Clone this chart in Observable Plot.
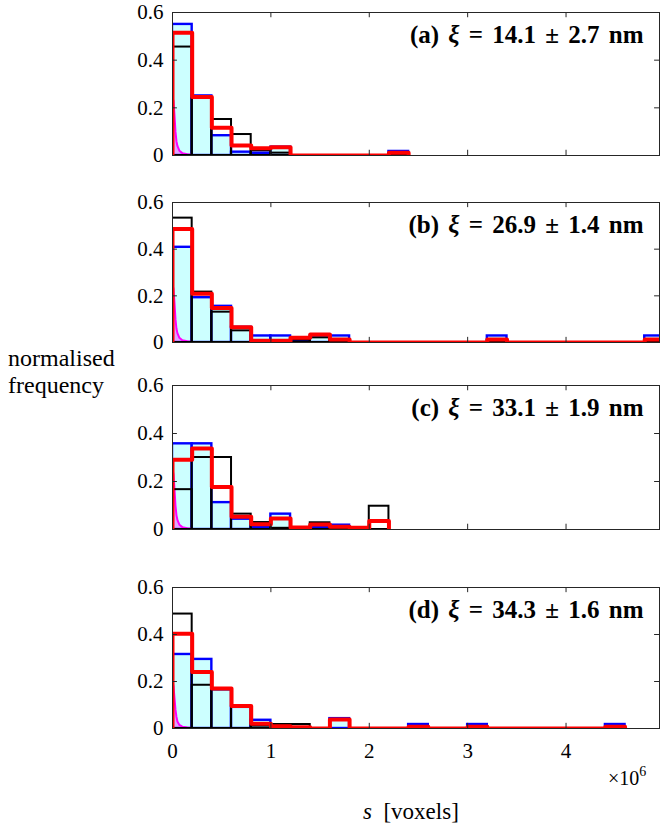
<!DOCTYPE html>
<html>
<head>
<meta charset="utf-8">
<script src="https://cdn.jsdelivr.net/npm/d3@7"></script>
<script src="https://cdn.jsdelivr.net/npm/@observablehq/plot@0.6"></script>
<style>
  html, body { margin: 0; padding: 0; background: #fff; }
  #wrap { position: relative; width: 660px; height: 828px; overflow: hidden; background: #fff;
          font-family: "Liberation Serif", serif; color: #000; }
  #wrap svg { position: absolute; left: 0; }
  .lbl { position: absolute; white-space: pre; line-height: 1; font-family: "Liberation Serif", serif; }
</style>
</head>
<body>
<div id="wrap">
  <div class="lbl" style="left:8px; top:346px; font-size:24px;">normalised</div>
  <div class="lbl" style="left:8px; top:373px; font-size:24px;">frequency</div>
  <div class="lbl" style="left:608px; top:768px; font-size:20px;">×10<span style="font-size:14px; position:relative; top:-9px;">6</span></div>
  <div class="lbl" style="left:363px; top:800px; font-size:23px;"><i>s</i>  [voxels]</div>
</div>
<script>
// ---------- data (x in units of 10^6 voxels, bin width 0.2) ----------
const binWidth = 0.2;
const panelLabels = ["(a)", "(b)", "(c)", "(d)"];
const xiValues = ["14.1 \u00b1 2.7 nm", "26.9 \u00b1 1.4 nm", "33.1 \u00b1 1.9 nm", "34.3 \u00b1 1.6 nm"];
const yTicks = [0, 0.2, 0.4, 0.6];
const xTicks = [0, 1, 2, 3, 4];

const blueA  = [0.550, 0.250, 0.083, 0.014, 0.010, 0.035, 0, 0, 0, 0, 0, 0.017];
const blackA = [0.455, 0.240, 0.151, 0.088, 0.020, 0.010, 0, 0, 0, 0, 0, 0.008];
const redA   = [0.515, 0.245, 0.116, 0.042, 0.030, 0.035, 0, 0, 0, 0, 0, 0.012];

const blueB  = [0.408, 0.192, 0.155, 0.065, 0.028, 0.028, 0.005, 0.028, 0.028, 0, 0, 0, 0, 0, 0, 0, 0.028, 0, 0, 0, 0, 0, 0, 0, 0.028];
const blackB = [0.533, 0.216, 0.130, 0.050, 0.005, 0.005, 0.010, 0.020, 0.010, 0, 0, 0, 0, 0, 0, 0, 0.010, 0, 0, 0, 0, 0, 0, 0, 0.010];
const redB   = [0.486, 0.209, 0.148, 0.065, 0.007, 0.007, 0.020, 0.034, 0.013, 0, 0, 0, 0, 0, 0, 0, 0.013, 0, 0, 0, 0, 0, 0, 0, 0.013];

const blueC  = [0.357, 0.357, 0.112, 0.043, 0.010, 0.064, 0.005, 0.010, 0.018, 0, 0];
const blackC = [0.166, 0.300, 0.300, 0.064, 0.029, 0.005, 0, 0.028, 0.011, 0.005, 0.097];
const redC   = [0.291, 0.337, 0.177, 0.053, 0.022, 0.046, 0.008, 0.021, 0.011, 0.007, 0.035];

const blueD  = [0.315, 0.294, 0.165, 0.090, 0.035, 0.005, 0, 0, 0.042, 0, 0, 0, 0.017, 0, 0, 0.017, 0, 0, 0, 0, 0, 0, 0.017];
const blackD = [0.487, 0.184, 0.165, 0.090, 0.010, 0.017, 0.017, 0, 0, 0, 0, 0, 0, 0, 0, 0, 0, 0, 0, 0, 0, 0, 0];
const redD   = [0.403, 0.240, 0.170, 0.096, 0.020, 0.010, 0.005, 0, 0.038, 0, 0, 0, 0.007, 0, 0, 0.007, 0, 0, 0, 0, 0, 0, 0.007];

// magenta: fine-binned distribution near zero
const magX = [0, 0.01, 0.02, 0.03, 0.04, 0.05, 0.07, 0.10, 0.15, 0.20, 0.30, 0.40];
const magA = [0.24, 0.23, 0.17, 0.10, 0.060, 0.040, 0.020, 0.010, 0.005, 0.003, 0.001, 0];
const magB = [0.25, 0.23, 0.17, 0.10, 0.060, 0.040, 0.020, 0.010, 0.005, 0.003, 0.001, 0];
const magC = [0.25, 0.23, 0.17, 0.10, 0.060, 0.040, 0.020, 0.010, 0.005, 0.003, 0.001, 0];
const magD = [0.20, 0.18, 0.13, 0.08, 0.050, 0.030, 0.015, 0.008, 0.004, 0.002, 0.001, 0];

const series = [
  {blue: blueA, black: blackA, red: redA, mag: magA},
  {blue: blueB, black: blackB, red: redB, mag: magB},
  {blue: blueC, black: blackC, red: redC, mag: magC},
  {blue: blueD, black: blackD, red: redD, mag: magD}
];

// ---------- layout ----------
const layout = [
  {top: 12,  h: 143},
  {top: 202, h: 140},
  {top: 385, h: 144},
  {top: 587, h: 141}
];
const xDomain = [0, 4.95];
const FONT = "Liberation Serif";

const toBins = vals => vals.map((v, i) => ({x1: i * binWidth, x2: (i + 1) * binWidth, y: v}));
const toStairs = vals => {
  const pts = [{x: 0, y: 0}];
  vals.forEach((v, i) => pts.push({x: i * binWidth, y: v}));
  pts.push({x: vals.length * binWidth, y: 0});
  return pts;
};

const wrap = document.getElementById("wrap");

series.forEach((s, k) => {
  const L = layout[k];
  const last = k === series.length - 1;
  const mt = 10, mb = last ? 40 : 10;
  const blueBins = toBins(s.blue).filter(d => d.y > 0);
  const blackBins = toBins(s.black).filter(d => d.y > 0);
  const mag = magX.map((x, i) => ({x, y: s.mag[i]}));
  const marks = [
    Plot.rectY(blueBins, {x1: "x1", x2: "x2", y: "y", fill: "#ccffff", stroke: "#0000ff", strokeWidth: 2.4, clip: true}),
    Plot.areaY(mag, {x: "x", y: "y", fill: "#ff00ff", fillOpacity: 0.35, clip: true}),
    Plot.line(mag, {x: "x", y: "y", stroke: "#ff00ff", strokeWidth: 2, clip: true}),
    Plot.rectY(blackBins, {x1: "x1", x2: "x2", y: "y", fill: "none", stroke: "#000000", strokeWidth: 2, clip: true}),
    Plot.line(toStairs(s.red), {x: "x", y: "y", curve: "step-after", stroke: "#ff0000", strokeWidth: 4, clip: true}),
    // inward tick marks
    Plot.ruleY(yTicks.slice(1, 3), {x1: 0, x2: 0.05, stroke: "#262626"}),
    Plot.ruleY(yTicks.slice(1, 3), {x1: 4.90, x2: 4.95, stroke: "#262626"}),
    Plot.ruleX(xTicks.slice(1), {y1: 0, y2: 0.022, stroke: "#262626"}),
    Plot.ruleX(xTicks.slice(1), {y1: 0.578, y2: 0.6, stroke: "#262626"}),
    Plot.frame({stroke: "#262626", strokeWidth: 1}),
    Plot.axisY({ticks: yTicks, tickSize: 0, tickPadding: 9, fontSize: 21,
                tickFormat: d => d === 0 ? "0" : d.toFixed(1), label: null}),
    Plot.text([panelLabels[k] + " \u03be = " + xiValues[k]], {
      frameAnchor: "top-right", dx: -16, dy: 13, fontSize: 25, fontWeight: "bold", fill: "#000"
    })
  ];
  if (last) {
    marks.push(Plot.axisX({ticks: xTicks, tickSize: 0, tickPadding: 15, fontSize: 21,
                           tickFormat: d => String(d), label: null}));
  }
  const chart = Plot.plot({
    width: 660,
    height: L.h + mt + mb,
    marginLeft: 172,
    marginRight: 1,
    marginTop: mt,
    marginBottom: mb,
    x: {domain: xDomain, axis: null},
    y: {domain: [0, 0.6], axis: null},
    style: {fontSize: "21px", background: "transparent", color: "#000", overflow: "visible"},
    marks
  });
  chart.style.top = (L.top - mt) + "px";
  chart.setAttribute("font-family", FONT);
  chart.style.fontFamily = FONT;
  chart.querySelectorAll("g[aria-label], text").forEach(el => {
    el.setAttribute("font-family", FONT);
  });
  // italic xi in the annotation
  chart.querySelectorAll("text").forEach(t => {
    t.style.fontFamily = FONT;
    const str = t.textContent;
    if (str.includes("\u03be")) {
      const [pre, post] = str.split("\u03be");
      t.textContent = "";
      t.style.whiteSpace = "pre";
      t.style.wordSpacing = "3px";
      const ns = "http://www.w3.org/2000/svg";
      const a = document.createElementNS(ns, "tspan"); a.textContent = pre;
      const b = document.createElementNS(ns, "tspan"); b.textContent = "\u03be"; b.setAttribute("font-style", "italic");
      const c = document.createElementNS(ns, "tspan"); c.textContent = post;
      t.append(a, b, c);
    }
  });
  wrap.appendChild(chart);
});
</script>
</body>
</html>
